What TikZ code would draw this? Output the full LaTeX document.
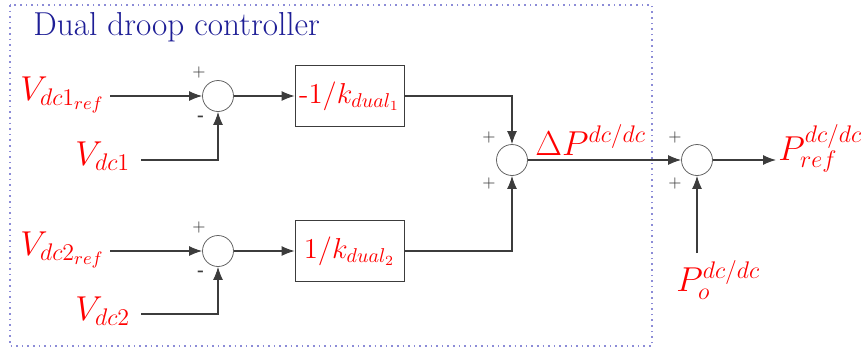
\documentclass[tikz,border=0pt]{standalone}
\usetikzlibrary{arrows.meta}
\DeclareMathSizes{16}{16}{11.5}{9.5}
\definecolor{titleblue}{RGB}{30,30,150}
\definecolor{framecol}{RGB}{140,140,215}
\definecolor{linecol}{RGB}{60,60,60}
\begin{document}
\begin{tikzpicture}[x=0.5pt,y=-0.5pt,
  sumnode/.style={circle,draw=linecol!80,minimum size=15.5pt,inner sep=0pt},
  blockbox/.style={rectangle,draw=linecol,minimum width=54.5pt,minimum height=30.5pt,inner sep=0pt,text=red,font=\Large},
  sig/.style={text=red,font=\fontsize{16}{19}\selectfont,inner sep=0pt},
  sgn/.style={text=linecol,font=\footnotesize,inner sep=0pt},
  conn/.style={draw=linecol,line width=0.55pt},
  arr/.style={conn,-{Latex[length=6.5pt,width=5pt]}}]
\useasboundingbox (0,0) rectangle (863,349);
\draw[framecol,dotted,line width=0.8pt] (10,5) rectangle (652,346);
\node[anchor=base west,text=titleblue,inner sep=0pt,font=\fontsize{16.6}{19}\selectfont] (title) at (33,35) {Dual droop controller};

\node[sumnode] (s1) at (218,96) {};
\node[sumnode] (s2) at (218,251) {};
\node[sumnode] (s3) at (512,160) {};
\node[sumnode] (s4) at (697,160) {};

\node[blockbox] (b1) at (349.5,96) {-1/$k_{dual_1}$};
\node[blockbox] (b2) at (349.5,251) {$1/k_{dual_2}$};

\node[sig,anchor=base west] (vr1) at (20,100) {$V_{dc1_{ref}}$};
\node[sig,anchor=base west] (v1) at (75,165) {$V_{dc1}$};
\node[sig,anchor=base west] (vr2) at (20,255) {$V_{dc2_{ref}}$};
\node[sig,anchor=base west] (v2) at (75,320) {$V_{dc2}$};
\node[sig,anchor=base west] (dp) at (535,155) {$\Delta P^{dc/dc}$};
\node[sig,anchor=base west] (pref) at (778,160) {$P_{ref}^{dc/dc}$};
\node[sig,anchor=base west] (po) at (676,291) {$P_{o}^{dc/dc}$};

\coordinate (vr1e) at (110,96);
\coordinate (v1e) at (141,160);
\coordinate (vr2e) at (110,251);
\coordinate (v2e) at (141,314);
\coordinate (poe) at (697,253);
\coordinate (out) at (776,160);

\node[sgn] (p1) at (199,72) {+};
\node[sgn] (m1) at (201,118) {\textbf{-}};
\node[sgn] (p2) at (199,227) {+};
\node[sgn] (m2) at (201,273) {\textbf{-}};
\node[sgn] (p3a) at (489,137) {+};
\node[sgn] (p3b) at (489,183) {+};
\node[sgn] (p4a) at (675,137) {+};
\node[sgn] (p4b) at (675,183) {+};

\draw[arr] (vr1e) -- (s1.west);
\draw[arr] (v1e) -| (s1.south);
\draw[arr] (s1.east) -- (b1.west);
\draw[arr] (vr2e) -- (s2.west);
\draw[arr] (v2e) -| (s2.south);
\draw[arr] (s2.east) -- (b2.west);
\draw[arr] (b1.east) -| (s3.north);
\draw[arr] (b2.east) -| (s3.south);
\draw[arr] (s3.east) -- (s4.west);
\draw[arr] (poe) -- (s4.south);
\draw[arr] (s4.east) -- (out);
\end{tikzpicture}
\end{document}
